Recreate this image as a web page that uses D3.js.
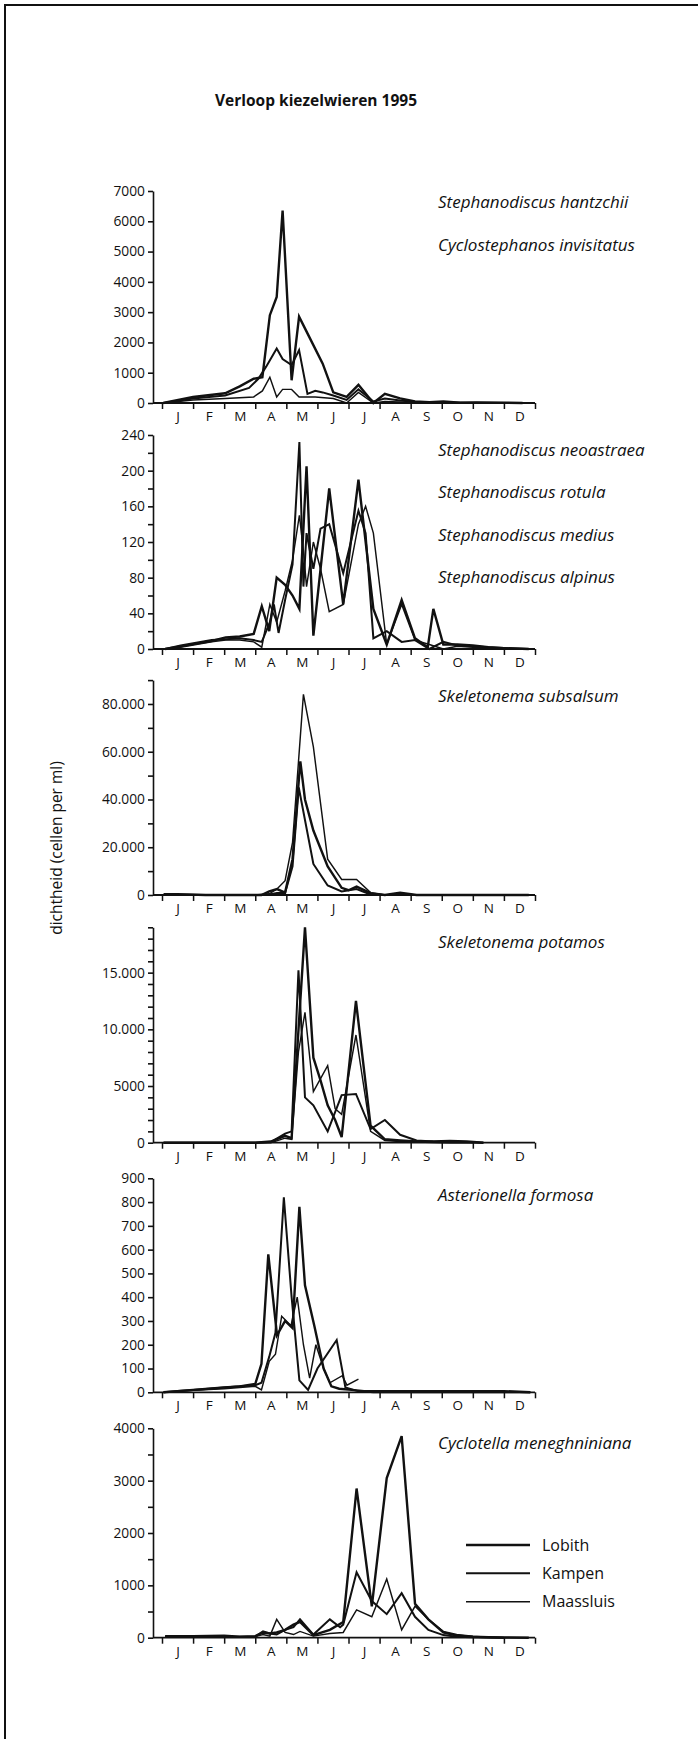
<!DOCTYPE html>
<html><head><meta charset="utf-8">
<script src="https://cdn.jsdelivr.net/npm/d3@7"></script>
<style>
body{margin:0;background:#fff;}
svg{display:block;}
text{font-family:"Open Sans",sans-serif;fill:#111;}
</style></head><body>
<svg id="chart" width="698" height="1739"></svg>
<script>
// ---------- data ----------
const months = ["J","F","M","A","M","J","J","A","S","O","N","D"];
const stations = ["Lobith","Kampen","Maassluis"];
const title = "Verloop kiezelwieren 1995";
const yTitle = "dichtheid (cellen per ml)";

// x = month position (0 = 1 Jan, 12 = 31 Dec), y = cells per ml
// Panel 1: Stephanodiscus hantzchii / Cyclostephanos invisitatus
const hantzLobith = [[0.04,0],[1,200],[2.03,320],[2.5,550],[2.95,800],[3.23,850],[3.47,2900],[3.69,3500],[3.88,6350],[4.17,750],[4.41,2850],[4.68,2300],[5.17,1300],[5.51,350],[5.94,200],[6.32,600],[6.8,0],[7.17,300],[7.66,150],[8.14,50],[8.6,30],[9.05,50],[9.6,10],[10.1,20],[11,10],[11.6,0]];
const hantzKampen = [[0.04,0],[1,150],[2.03,250],[2.8,500],[3.1,800],[3.35,1200],[3.69,1800],[3.88,1450],[4.17,1250],[4.41,1750],[4.68,300],[4.93,400],[5.17,350],[5.51,250],[5.94,100],[6.32,450],[6.8,50],[7.17,150],[7.66,80],[8.14,30],[9.05,20],[10,10],[11.6,0]];
const hantzMaassluis = [[0.04,0],[1,100],[2.03,150],[2.95,200],[3.23,400],[3.47,850],[3.69,200],[3.88,450],[4.17,450],[4.41,200],[4.93,200],[5.51,150],[5.94,0],[6.32,350],[6.8,0],[7.17,50],[8.14,20],[9,0],[11.6,0]];

// Panel 2: Stephanodiscus neoastraea / rotula / medius / alpinus
const stephLobith = [[0.1,0],[0.6,3],[1.1,6],[1.6,9],[2.05,13],[2.5,14],[2.95,17],[3.21,48],[3.45,20],[3.69,80],[3.96,72],[4.2,60],[4.42,45],[4.65,205],[4.87,15],[5.38,180],[5.83,50],[6.32,190],[6.8,45],[7.23,5],[7.71,55],[8.14,12],[8.55,2],[8.73,45],[9.05,5],[9.5,5],[10,4],[10.5,2],[11,1],[11.8,0]];
const stephKampen = [[0.1,0],[0.6,4],[1.1,7],[1.6,10],[2.05,11],[2.5,12],[2.95,10],[3.21,8],[3.47,30],[3.6,50],[3.75,18],[3.96,55],[4.2,95],[4.42,232],[4.55,70],[4.65,130],[4.87,90],[5.1,135],[5.38,140],[5.83,85],[6.32,155],[6.55,130],[6.8,12],[7.23,20],[7.71,8],[8.14,10],[8.6,0],[9.05,8],[9.5,4],[10,3],[10.5,2],[11,1],[11.8,0]];
const stephMaassluis = [[0.1,0],[0.6,2],[1.1,5],[1.6,8],[2.05,10],[2.5,10],[2.95,8],[3.21,2],[3.47,50],[3.69,30],[3.96,65],[4.2,100],[4.42,150],[4.55,110],[4.65,70],[4.87,120],[5.1,90],[5.38,42],[5.83,50],[6.32,140],[6.55,160],[6.8,130],[7.23,5],[7.71,50],[8.14,10],[8.6,5],[9.05,0],[9.5,3],[10,2],[11,0]];

// Panel 3: Skeletonema subsalsum
const subsLobith = [[0.05,300],[0.5,300],[0.9,200],[1.4,0],[2,0],[2.5,0],[3,0],[3.2,0],[3.45,1500],[3.7,2500],[3.96,1000],[4.2,15000],[4.45,56000],[4.6,40000],[4.87,27000],[5.33,12000],[5.78,3000],[6.0,2000],[6.26,3500],[6.71,800],[7.17,0],[7.66,1000],[8.19,0],[9,0],[10,0],[11,0],[11.8,0]];
const subsKampen = [[0.05,0],[1,0],[2,0],[3,0],[3.2,0],[3.45,200],[3.7,800],[3.96,800],[4.2,12000],[4.4,45000],[4.87,13000],[5.33,4000],[5.78,1500],[6.26,2500],[6.71,200],[7.17,0],[8,0],[9,0],[10,0],[11,0],[11.8,0]];
const subsMaassluis = [[0.05,0],[1,0],[2,0],[3,0],[3.45,500],[3.7,2500],[3.96,6000],[4.2,22000],[4.55,84000],[4.87,62000],[5.33,15000],[5.78,6500],[6.26,6500],[6.71,1000],[7.17,0],[7.66,500],[8.19,0],[9,0],[10,0],[11,0],[11.8,0]];

// Panel 4: Skeletonema potamos
const potaLobith = [[0.05,0],[1,0],[2,0],[3,0],[3.5,100],[3.96,600],[4.17,400],[4.6,19000],[4.87,7500],[5.1,5500],[5.33,3300],[5.57,2000],[5.78,500],[6.24,12500],[6.71,1500],[7.17,300],[7.66,200],[8.19,100],[8.73,100],[9.26,150],[9.8,100],[10.34,0]];
const potaKampen = [[0.05,0],[1,0],[2,0],[3,0],[3.5,50],[3.96,800],[4.17,1000],[4.39,15200],[4.6,4000],[4.87,3300],[5.33,1000],[5.78,4200],[6.24,4300],[6.71,1200],[7.17,2000],[7.66,700],[8.19,200],[8.73,100],[9.26,50],[9.8,50],[10.34,0]];
const potaMaassluis = [[0.05,0],[1,0],[2,0],[3,0],[3.5,0],[3.96,400],[4.17,300],[4.39,8000],[4.6,11500],[4.87,4500],[5.33,6800],[5.57,3000],[5.78,2500],[6.24,9500],[6.71,1000],[7.17,200],[7.66,100],[8.19,50],[9,0],[10,0]];

// Panel 5: Asterionella formosa
const asteLobith = [[0.05,0],[0.5,5],[1,10],[1.5,15],[2,20],[2.5,25],[3,35],[3.2,120],[3.42,580],[3.7,240],[3.96,300],[4.2,270],[4.42,780],[4.6,450],[4.9,280],[5.2,100],[5.45,25],[5.7,15],[6.1,10],[6.5,5],[7,5],[8,5],[9,5],[10,5],[11,5],[11.85,0]];
const asteKampen = [[0.05,0],[0.5,5],[1,10],[1.5,15],[2,20],[2.5,25],[3,30],[3.2,40],[3.45,150],[3.65,250],[3.92,820],[4.17,400],[4.42,50],[4.7,10],[5.0,100],[5.62,220],[5.9,20],[6.3,5],[6.8,0],[8,0],[10,0],[11.85,0]];
const asteMaassluis = [[0.05,0],[0.5,3],[1,8],[1.5,12],[2,15],[2.5,20],[3,25],[3.2,10],[3.45,130],[3.65,160],[3.85,320],[4.15,280],[4.35,400],[4.55,200],[4.75,60],[4.95,200],[5.2,100],[5.4,40],[5.8,70],[5.95,30],[6.32,55]];

// Panel 6: Cyclotella meneghniniana
const cyclLobith = [[0.1,30],[0.5,30],[1,30],[1.5,35],[2,40],[2.5,20],[3,30],[3.25,100],[3.47,80],[3.69,100],[3.96,150],[4.23,250],[4.44,300],[4.87,50],[5.4,150],[5.83,300],[6.26,2850],[6.75,600],[7.23,3050],[7.71,3850],[8.14,650],[8.57,350],[9.05,100],[9.48,40],[10,20],[10.5,10],[11,5],[11.8,0]];
const cyclKampen = [[0.1,20],[0.5,20],[1,20],[1.5,25],[2,20],[2.5,20],[3,20],[3.25,120],[3.47,80],[3.69,60],[3.96,150],[4.23,200],[4.44,350],[4.87,60],[5.4,350],[5.73,200],[5.83,250],[6.26,1250],[6.75,700],[7.23,450],[7.71,850],[8.14,400],[8.57,150],[9.05,50],[9.48,20],[10,10],[11,0]];
const cyclMaassluis = [[0.1,10],[0.5,10],[1,15],[1.5,20],[2,15],[2.5,10],[3,20],[3.25,60],[3.47,30],[3.69,350],[3.96,100],[4.23,60],[4.44,120],[4.87,30],[5.4,80],[5.83,100],[6.26,530],[6.75,400],[7.23,1120],[7.71,150],[8.14,600],[8.57,350],[9.05,120],[9.48,60],[10,30],[10.5,10],[11,0]];

// axis definitions (max, tick step, label step)
const yMaxes = [7000, 240, 90000, 19000, 900, 4000];
const tickSteps = [1000, 20, 10000, 1000, 100, 500];
const labelSteps = [1000, 40, 20000, 5000, 100, 1000];
const species = [
  ["Stephanodiscus hantzchii","Cyclostephanos invisitatus"],
  ["Stephanodiscus neoastraea","Stephanodiscus rotula","Stephanodiscus medius","Stephanodiscus alpinus"],
  ["Skeletonema subsalsum"],
  ["Skeletonema potamos"],
  ["Asterionella formosa"],
  ["Cyclotella meneghniniana"]
];
const seriesByPanel = [
  [hantzLobith, hantzKampen, hantzMaassluis],
  [stephLobith, stephKampen, stephMaassluis],
  [subsLobith, subsKampen, subsMaassluis],
  [potaLobith, potaKampen, potaMaassluis],
  [asteLobith, asteKampen, asteMaassluis],
  [cyclLobith, cyclKampen, cyclMaassluis]
];

// ---------- layout ----------
const W = 698, H = 1739;
const AXIS_X = 153, X0 = 162, X1 = 535;
const panelLayout = [
  {y0:403,   yTop:191,   labelY:[208, 250.7]},
  {y0:649,   yTop:435,   labelY:[456, 498.3, 540.7, 583]},
  {y0:895,   yTop:680.1, labelY:[701.5]},
  {y0:1142.7,yTop:927.3, labelY:[948]},
  {y0:1392.3,yTop:1178.3,labelY:[1201]},
  {y0:1637.7,yTop:1428.3,labelY:[1449]}
];
const strokeW = [2.4, 2.0, 1.45];
const INK = "#111";

const svg = d3.select("#chart");
svg.append("rect").attr("width",W).attr("height",H).attr("fill","#fff");

// page frame (top + left)
svg.append("path").attr("d",`M5,${H}V5H${W}`).attr("fill","none").attr("stroke",INK).attr("stroke-width",2);

svg.append("text").attr("x",316).attr("y",106).attr("text-anchor","middle")
  .style("font-weight","700").style("font-size","15.5px").text(title);

svg.append("text").attr("transform","translate(62,848) rotate(-90)")
  .attr("text-anchor","middle").style("font-size","15.5px").text(yTitle);

const x = d3.scaleLinear().domain([0,12]).range([X0,X1]);
const fmt = v => v >= 10000 ? d3.format(",")(v).replace(/,/g,".") : String(v);

panelLayout.forEach((L,i)=>{
  const g = svg.append("g");
  const y = d3.scaleLinear().domain([0,yMaxes[i]]).range([L.y0,L.yTop]);

  // lines
  const line = d3.line().x(d=>x(d[0])).y(d=>y(d[1]));
  seriesByPanel[i].forEach((s,k)=>{
    g.append("path").datum(s).attr("d",line).attr("fill","none")
      .attr("stroke",INK).attr("stroke-width",strokeW[k])
      .attr("stroke-linejoin","miter").attr("stroke-miterlimit",4);
  });

  // y axis
  const step = tickSteps[i], lstep = labelSteps[i];
  const tv = d3.range(0, yMaxes[i] + step/2, step);
  const ya = d3.axisLeft(y).tickValues(tv).tickSize(5).tickSizeOuter(0).tickPadding(3)
    .tickFormat(v => (Math.abs(v/lstep - Math.round(v/lstep))<1e-9) ? fmt(v) : "");
  const gy = g.append("g").attr("transform",`translate(${AXIS_X},0)`).call(ya);
  gy.selectAll("path,line").attr("stroke",INK).attr("stroke-width",1.6);
  gy.selectAll("text").style("font-size","13.8px").style("font-family","'Open Sans',sans-serif").attr("fill",INK);

  // x axis line + month boundary ticks
  g.append("line").attr("x1",AXIS_X).attr("x2",X1).attr("y1",L.y0).attr("y2",L.y0)
    .attr("stroke",INK).attr("stroke-width",1.8);
  const xt = d3.axisBottom(x).tickValues(d3.range(0,13)).tickSize(6).tickFormat("");
  const gx = g.append("g").attr("transform",`translate(0,${L.y0})`).call(xt);
  gx.select(".domain").remove();
  gx.selectAll("line").attr("stroke",INK).attr("stroke-width",1.5);
  const xl = d3.axisBottom(x).tickValues(d3.range(0.5,12,1)).tickSize(0).tickPadding(8.5)
    .tickFormat(d=>months[Math.floor(d)]);
  const gxl = g.append("g").attr("transform",`translate(0,${L.y0})`).call(xl);
  gxl.select(".domain").remove();
  gxl.selectAll("text").style("font-size","13.5px").style("font-family","'Open Sans',sans-serif").attr("fill",INK);

  // species labels
  species[i].forEach((sp,j)=>{
    g.append("text").attr("x",438).attr("y",L.labelY[j])
      .style("font-style","italic").style("font-size","17px").text(sp);
  });
});

// legend
const legY = [1545, 1573.3, 1601.7];
const lg = svg.append("g");
stations.forEach((s,k)=>{
  lg.append("line").attr("x1",466).attr("x2",530).attr("y1",legY[k]).attr("y2",legY[k])
    .attr("stroke",INK).attr("stroke-width",strokeW[k]);
  lg.append("text").attr("x",542).attr("y",legY[k]+5.5).style("font-size","16px").text(s);
});
</script>
</body></html>
